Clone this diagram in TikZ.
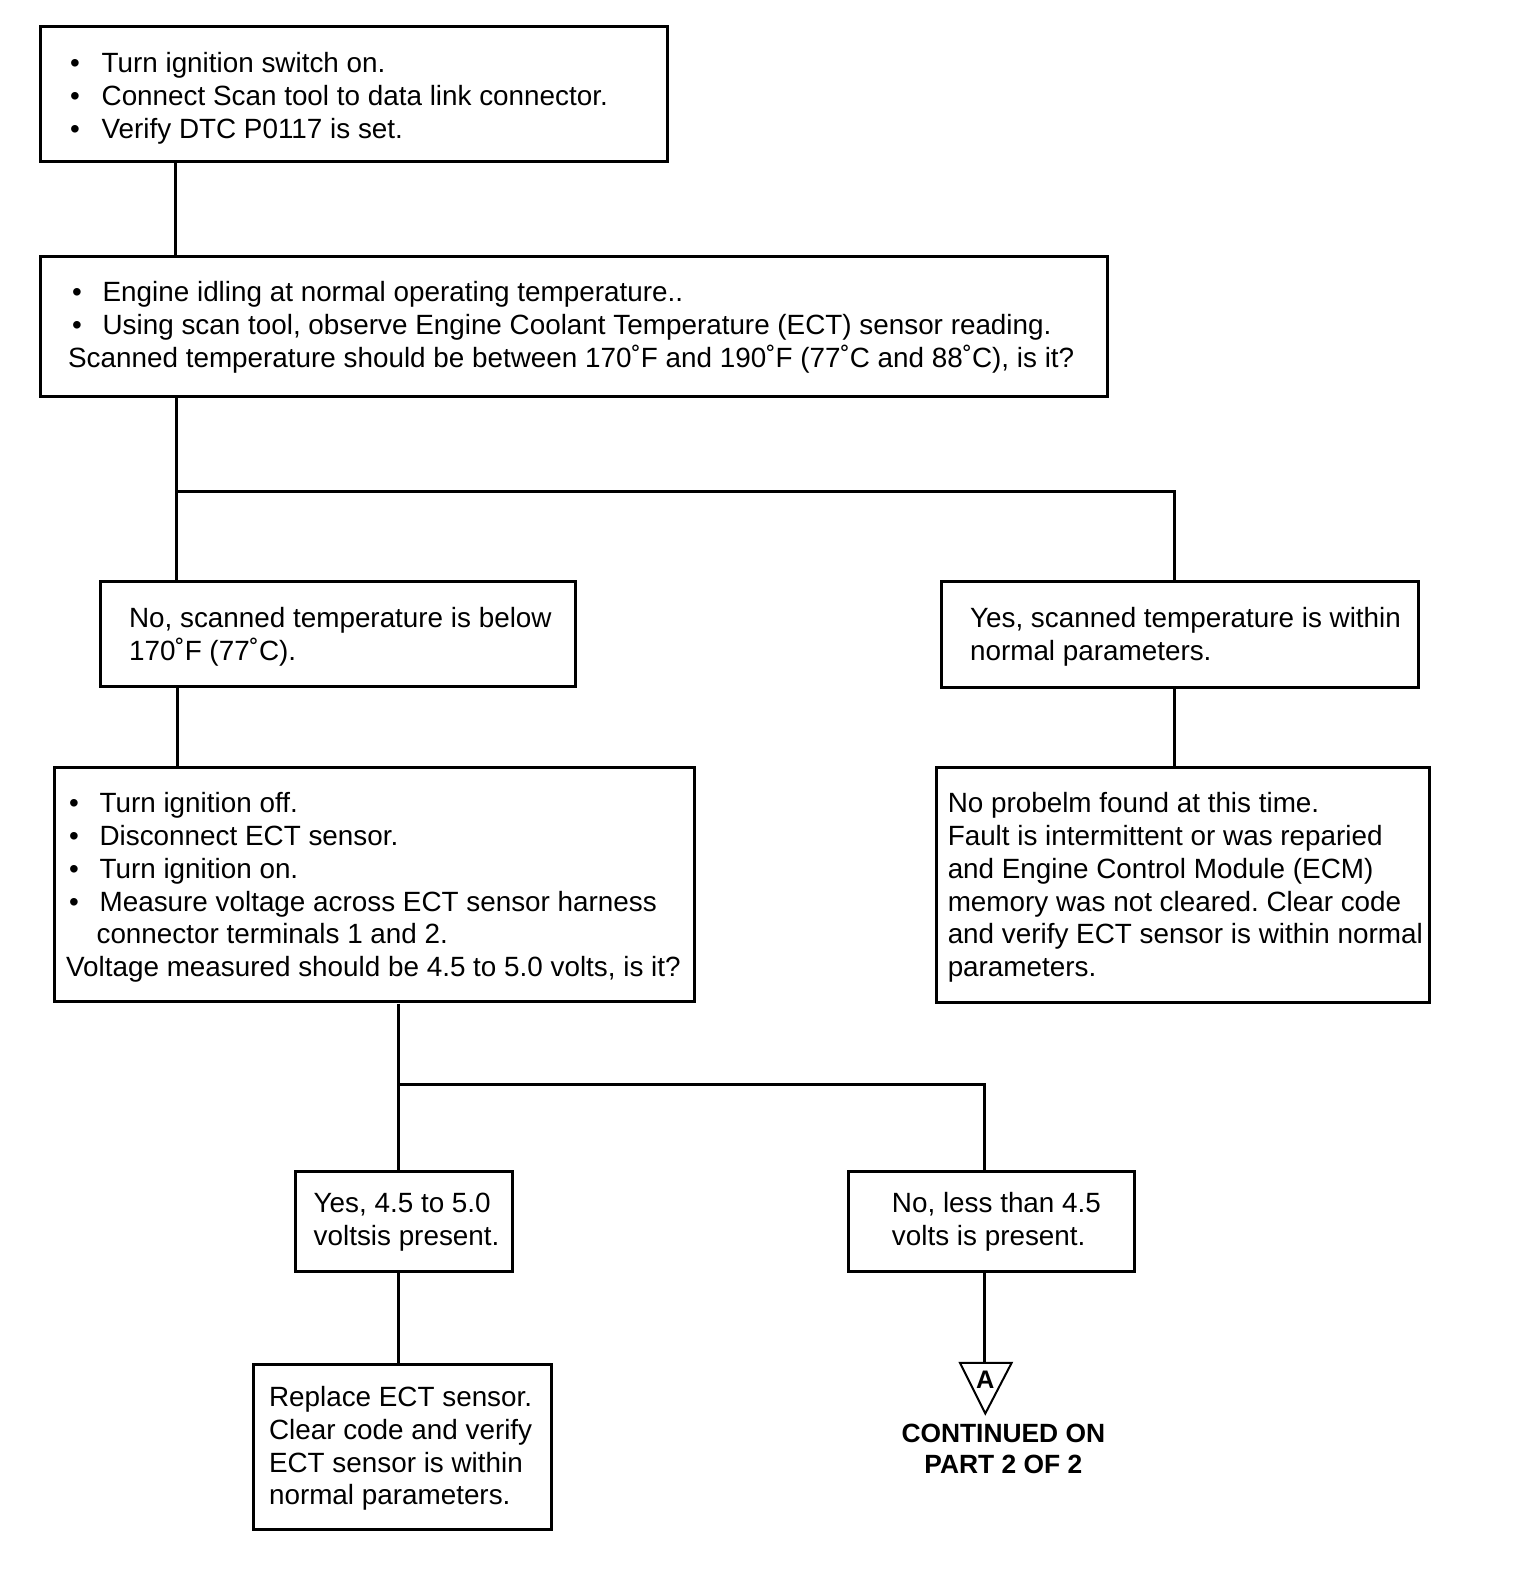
\documentclass[tikz,border=0pt]{standalone}
\usepackage{fontspec}
\setmainfont{Liberation Sans}
\usetikzlibrary{calc}
\newcommand{\bul}[1]{\makebox[#1][l]{•}}
\frenchspacing
\begin{document}
\begin{tikzpicture}[x=1pt,y=-1pt,
  box/.style={draw, line width=3pt, inner sep=0pt, anchor=north west},
  txt/.style={anchor=west, inner sep=0pt, font=\fontsize{27.45}{32.3}\selectfont},
  conn/.style={line width=3pt},
  contd/.style={align=center, inner sep=0pt, font=\fontsize{26}{31}\selectfont\bfseries}]
\fill[white] (0,0) rectangle (1536,1592);
\useasboundingbox (0,0) rectangle (1536,1592);
\begin{scope}[scale=1.0145, transform shape]
% boxes
\node[box, minimum width=618pt, minimum height=133pt] (b1) at (38,25) {};
\node[box, minimum width=1052pt, minimum height=138pt] (b2) at (38,251) {};
\node[box, minimum width=468pt, minimum height=103pt] (b3) at (98,572) {};
\node[box, minimum width=470pt, minimum height=104pt] (b4) at (927,572) {};
\node[box, minimum width=631pt, minimum height=231pt] (b5) at (52,755) {};
\node[box, minimum width=486pt, minimum height=232pt] (b6) at (922,755) {};
\node[box, minimum width=214pt, minimum height=99pt] (b7) at (290,1153) {};
\node[box, minimum width=282pt, minimum height=99pt] (b8) at (835,1153) {};
\node[box, minimum width=294pt, minimum height=163pt] (b9) at (248,1343) {};

% texts
\node[txt] (t1) at (69,97.5) {\begin{tabular}{@{}l@{}}
\bul{31pt}Turn ignition switch on.\\
\bul{31pt}Connect Scan tool to data link connector.\\
\bul{31pt}Verify DTC P0117 is set.\end{tabular}};
\node[txt] (t2) at (67,323.5) {\begin{tabular}{@{}l@{}}
\hspace*{4pt}\bul{30pt}Engine idling at normal operating temperature..\\
\hspace*{4pt}\bul{30pt}Using scan tool, observe Engine Coolant Temperature (ECT) sensor reading.\\
Scanned temperature should be between 170˚F and 190˚F (77˚C and 88˚C), is it?\end{tabular}};
\node[txt] (t3) at (127,628) {\begin{tabular}{@{}l@{}}
No, scanned temperature is below\\
170˚F (77˚C).\end{tabular}};
\node[txt] (t4) at (956,628) {\begin{tabular}{@{}l@{}}
Yes, scanned temperature is within\\
normal parameters.\end{tabular}};
\node[txt] (t5) at (65,875.5) {\begin{tabular}{@{}l@{}}
\hspace*{3pt}\bul{30pt}Turn ignition off.\\
\hspace*{3pt}\bul{30pt}Disconnect ECT sensor.\\
\hspace*{3pt}\bul{30pt}Turn ignition on.\\
\hspace*{3pt}\bul{30pt}Measure voltage across ECT sensor harness\\
\hspace*{30pt}connector terminals 1 and 2.\\
Voltage measured should be 4.5 to 5.0 volts, is it?\end{tabular}};
\node[txt] (t6) at (934,875.5) {\begin{tabular}{@{}l@{}}
No probelm found at this time.\\
Fault is intermittent or was reparied\\
and Engine Control Module (ECM)\\
memory was not cleared. Clear code\\
and verify ECT sensor is within normal\\
parameters.\end{tabular}};
\node[txt] (t7) at (309,1205) {\begin{tabular}{@{}l@{}}
Yes, 4.5 to 5.0\\
voltsis present.\end{tabular}};
\node[txt] (t8) at (879,1205) {\begin{tabular}{@{}l@{}}
No, less than 4.5\\
volts is present.\end{tabular}};
\node[txt] (t9) at (265,1428.5) {\begin{tabular}{@{}l@{}}
Replace ECT sensor.\\
Clear code and verify\\
ECT sensor is within\\
normal parameters.\end{tabular}};

% connector points
\coordinate (x1) at (173,0);
\coordinate (x2) at (174,0);
\coordinate (x3) at (175,0);
\coordinate (x4) at (393,0);
\coordinate (s2l) at (174,484);
\coordinate (s2r) at (1157,484);
\coordinate (s5l) at (393,1069);
\coordinate (s5r) at (970,1069);
\coordinate (tri) at (970,1343);

% connectors
\draw[conn] (b1.south -| x1) -- (b2.north -| x1);
\draw[conn] (b2.south -| x2) -- (b3.north -| x2);
\draw[conn] (s2l) -- (s2r) -- (b4.north -| s2r);
\draw[conn] (b3.south -| x3) -- (b5.north -| x3);
\draw[conn] (b4.south -| s2r) -- (b6.north -| s2r);
\draw[conn] (b5.south -| x4) -- (b7.north -| x4);
\draw[conn] (s5l) -- (s5r) -- (b8.north -| s5r);
\draw[conn] (b7.south -| x4) -- (b9.north -| x4);
\draw[conn] (b8.south -| s5r) -- (tri);

% off-page connector triangle
\draw[line width=2pt, line join=miter] ($(tri)+(-24,0)$) -- ($(tri)+(27,0)$) -- ($(tri)+(1,50)$) -- cycle;
\node[inner sep=0pt, font=\fontsize{25}{28}\selectfont\bfseries] (triA) at ($(tri)+(1,17)$) {A};
\node[contd] (cont) at (989,1428) {CONTINUED ON\\PART 2 OF 2};
\end{scope}
\end{tikzpicture}
\end{document}
